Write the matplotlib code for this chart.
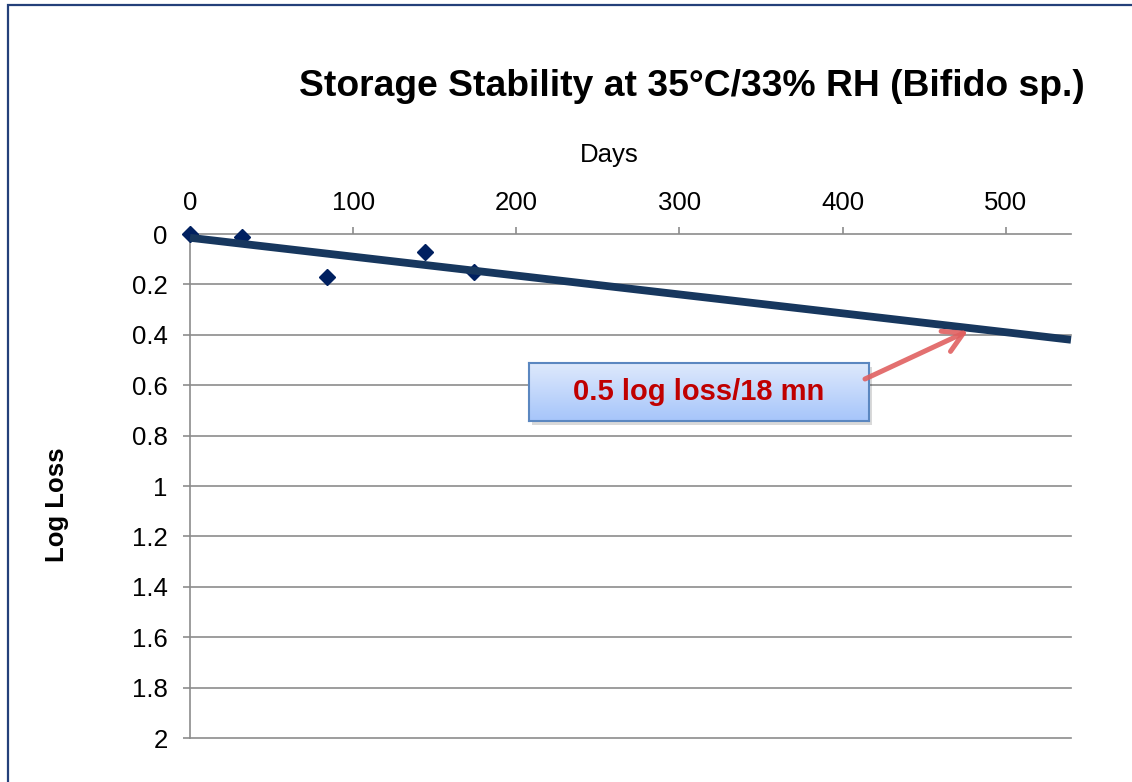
import numpy as np
import matplotlib
matplotlib.use("Agg")
import matplotlib.pyplot as plt
from matplotlib.patches import Rectangle, FancyArrowPatch

plt.rcParams['font.family'] = ['Liberation Sans', 'DejaVu Sans']

# ---- data ----
days = [0, 32, 84, 144, 174]
log_loss = [0.0, 0.01, 0.17, 0.07, 0.15]
x_ticks = [0, 100, 200, 300, 400, 500]
y_ticks = [0, 0.2, 0.4, 0.6, 0.8, 1, 1.2, 1.4, 1.6, 1.8, 2]
y_tick_labels = ["0", "0.2", "0.4", "0.6", "0.8", "1", "1.2", "1.4", "1.6", "1.8", "2"]
title = "Storage Stability at 35°C/33% RH (Bifido sp.)"
annotation = "0.5 log loss/18 mn"

W, H = 1132, 782
fig = plt.figure(figsize=(W / 100, H / 100), dpi=100)

def fx(px):
    return px / W

def fy(py):
    return 1 - py / H

# outer frame
fig.patches.append(Rectangle((fx(8), fy(800)), fx(1140) - fx(8), fy(5) - fy(800),
                             transform=fig.transFigure, fill=False,
                             edgecolor="#24407A", lw=1.6, clip_on=True))

ax = fig.add_axes([fx(190), fy(738), fx(1071) - fx(190), fy(234) - fy(738)])
ax.set_xlim(0, 540)
ax.set_ylim(2, 0)

grid_c = "#8C8C8C"
for s in ["right", "bottom", "top"]:
    ax.spines[s].set_visible(False)
ax.spines["left"].set_color(grid_c)
ax.spines["left"].set_linewidth(1.2)

ax.set_yticks(y_ticks)
ax.set_yticklabels(y_tick_labels)
ax.set_xticks(x_ticks)
ax.xaxis.tick_top()
ax.xaxis.set_label_position("top")
ax.tick_params(axis="y", length=5, width=1.2, color=grid_c, pad=11, labelsize=18.5)
ax.tick_params(axis="x", length=5, width=1.2, color=grid_c, pad=9, labelsize=18.5)
for y in y_ticks:
    ax.axhline(y, color=grid_c, lw=1.2, zorder=1, clip_on=False)

# data points
ax.plot(days, log_loss, linestyle="none", marker="D", markersize=8.2,
        color="#002060", zorder=3, clip_on=False)

# linear trendline
coef = np.polyfit(days, log_loss, 1)
xt = np.array([0, 540])
ax.plot(xt, np.polyval(coef, xt), color="#17375E", lw=5.6, zorder=4,
        solid_capstyle="butt", clip_on=False)

# titles
fig.text(fx(692), fy(86), title, ha="center", va="center", fontsize=26.8,
         fontweight="bold")
fig.text(fx(609), fy(155), "Days", ha="center", va="center", fontsize=18.5)
fig.text(fx(57), fy(505), "Log Loss", ha="center", va="center", fontsize=18.5,
         fontweight="bold", rotation=90)

# annotation box with gradient
bx0, bx1, by0, by1 = 529, 869, 363, 421
shadow = Rectangle((fx(bx0 + 3), fy(by1 + 4)), fx(bx1) - fx(bx0), fy(by0) - fy(by1),
                   transform=fig.transFigure, facecolor="#000000", alpha=0.15,
                   edgecolor="none", zorder=5)
fig.patches.append(shadow)
bax = fig.add_axes([fx(bx0), fy(by1), fx(bx1) - fx(bx0), fy(by0) - fy(by1)], zorder=6)
top_c = np.array([0xDE, 0xE9, 0xFC]) / 255
bot_c = np.array([0xA6, 0xC5, 0xFA]) / 255
t = np.linspace(0, 1, 100)[:, None]
grad = (top_c[None, :] * (1 - t) + bot_c[None, :] * t)[:, None, :]
bax.imshow(grad, aspect="auto", extent=[0, 1, 0, 1])
bax.set_xlim(0, 1)
bax.set_ylim(0, 1)
bax.set_xticks([])
bax.set_yticks([])
for s in bax.spines.values():
    s.set_color("#5B87C0")
    s.set_linewidth(1.5)
bax.text(0.5, 0.5, annotation, ha="center", va="center", fontsize=21,
         fontweight="bold", color="#C00000", transform=bax.transAxes)

# arrow
arr = FancyArrowPatch((fx(865), fy(379)), (fx(968), fy(331)),
                      transform=fig.transFigure,
                      arrowstyle="->,head_length=0.7,head_width=0.4",
                      mutation_scale=20, color="#E06060", alpha=0.9, lw=3.6,
                      shrinkA=0, shrinkB=0, zorder=7)
fig.patches.append(arr)

fig.savefig("out.png", dpi=100)
